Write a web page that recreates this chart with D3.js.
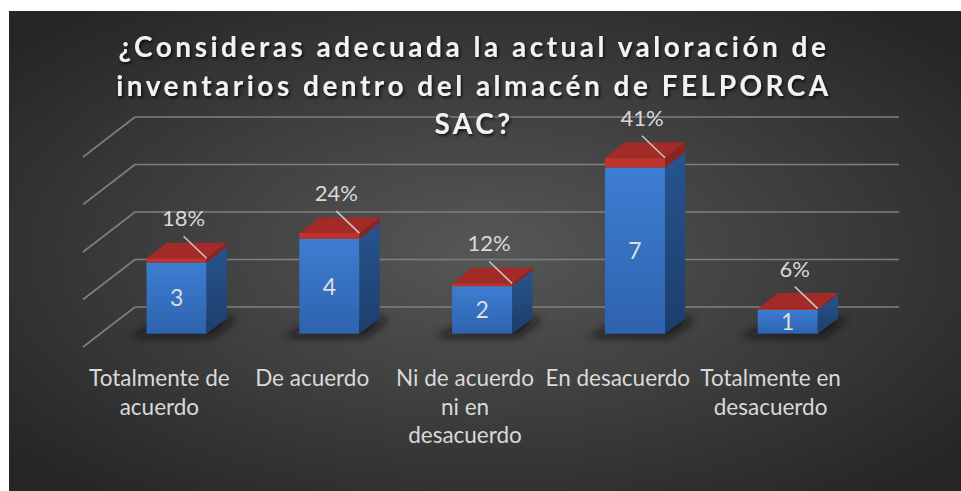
<!DOCTYPE html>
<html>
<head>
<meta charset="utf-8">
<script src="https://cdn.jsdelivr.net/npm/d3@7"></script>
<style>
    body { margin: 0; background: #fff; }
    svg { display: block; }
</style>
</head>
<body>
<div id="chart"></div>
<script>
// chart data
const categories = ['Totalmente de acuerdo', 'De acuerdo', 'Ni de acuerdo ni en desacuerdo', 'En desacuerdo', 'Totalmente en desacuerdo'];
const tickLabels = [['Totalmente de', 'acuerdo'], ['De acuerdo'], ['Ni de acuerdo', 'ni en', 'desacuerdo'], ['En desacuerdo'], ['Totalmente en', 'desacuerdo']];
const counts = [3, 4, 2, 7, 1];
const percents = [0.18, 0.24, 0.12, 0.41, 0.06];
const yTicks = [0, 2, 4, 6, 8];
const titleLines = ['¿Consideras adecuada la actual valoración de', 'inventarios dentro del almacén de FELPORCA', 'SAC?'];

const W = 961, H = 491;
// depth of the 3D floor (back wall offset from front plane)
const DX = 52, DY = 40;
const zFront = 0.33, zBack = 0.72;

const svg = d3.select('#chart').append('svg')
    .attr('width', W)
    .attr('height', H);

const defs = svg.append('defs');

// background gradient
const bg = defs.append('radialGradient').attr('id', 'bg')
    .attr('cx', '50%').attr('cy', '50%').attr('r', '65%');
bg.append('stop').attr('offset', '0%').attr('stop-color', '#575757');
bg.append('stop').attr('offset', '100%').attr('stop-color', '#262626');

const grad = (id, c1, c2) => {
    let g = defs.append('linearGradient').attr('id', id)
        .attr('x1', 0).attr('y1', 0).attr('x2', 0).attr('y2', 1);
    g.append('stop').attr('offset', '0%').attr('stop-color', c1);
    g.append('stop').attr('offset', '100%').attr('stop-color', c2);
}
grad('blueFront', '#3d7ed2', '#2e62ae');
grad('blueSide', '#27548f', '#1c3e6b');

defs.append('filter').attr('id', 'blur')
    .attr('x', '-50%').attr('y', '-50%').attr('width', '200%').attr('height', '200%')
    .append('feGaussianBlur').attr('stdDeviation', 4);

const shadowF = defs.append('filter').attr('id', 'tshadow')
    .attr('x', '-10%').attr('y', '-30%').attr('width', '120%').attr('height', '160%');
shadowF.append('feDropShadow')
    .attr('dx', 1.5).attr('dy', 2).attr('stdDeviation', 1.5)
    .attr('flood-color', '#000').attr('flood-opacity', 0.7);

svg.append('rect')
    .attr('x', 9).attr('y', 11)
    .attr('width', W - 9).attr('height', H - 11)
    .attr('fill', 'url(#bg)');

// scales (front plane)
const xScale = d3.scaleBand()
    .domain(categories)
    .range([83, 847])
    .paddingInner(0.607)
    .paddingOuter(0.3035);

const yScale = d3.scaleLinear()
    .domain([0, 8])
    .range([347, 157]);

// project a point (x in front plane, value, depth 0..1) to the screen
const proj = (x, v, z) => [x + z * DX, yScale(v) - z * DY];
const poly = pts => pts.map(p => p.join(',')).join(' ');

//************* GRID *************//
const grid = svg.append('g').attr('class', 'grid');
const xLeft = xScale.range()[0], xRight = xScale.range()[1];

grid.selectAll('.back')
    .data(yTicks)
    .enter()
    .append('line')
        .attr('x1', d => proj(xLeft, d, 1)[0])
        .attr('y1', d => proj(xLeft, d, 1)[1])
        .attr('x2', d => proj(xRight, d, 1)[0])
        .attr('y2', d => proj(xRight, d, 1)[1]);

grid.selectAll('.side')
    .data(yTicks)
    .enter()
    .append('line')
        .attr('x1', d => proj(xLeft, d, 0)[0])
        .attr('y1', d => proj(xLeft, d, 0)[1])
        .attr('x2', d => proj(xLeft, d, 1)[0])
        .attr('y2', d => proj(xLeft, d, 1)[1]);

grid.selectAll('line')
    .attr('stroke', '#7f7f7f')
    .attr('stroke-width', 1.6);

//************* BARS *************//
const data = categories.map((c, i) => ({
    key: c,
    count: counts[i],
    pct: percents[i]
}));

const bars = svg.selectAll('.bar')
    .data(data)
    .enter()
    .append('g')
    .attr('class', 'bar');

// soft shadow on the floor
bars.append('polygon')
    .attr('points', d => {
        let x0 = xScale(d.key) - 14, x1 = xScale(d.key) + xScale.bandwidth() + 10;
        return poly([proj(x0, 0, zFront - 0.08), proj(x1, 0, zFront - 0.08),
                     proj(x1, 0, zBack), proj(x0 + 20, 0, zBack)]);
    })
    .attr('fill', '#111')
    .attr('opacity', 0.75)
    .attr('filter', 'url(#blur)');

const drawBlock = (sel, v0, v1, front, side, top) => {
    sel.append('polygon')
        .attr('points', d => {
            let x0 = xScale(d.key), x1 = x0 + xScale.bandwidth();
            return poly([proj(x0, v0(d), zFront), proj(x1, v0(d), zFront),
                         proj(x1, v1(d), zFront), proj(x0, v1(d), zFront)]);
        })
        .attr('fill', front);
    sel.append('polygon')
        .attr('points', d => {
            let x1 = xScale(d.key) + xScale.bandwidth();
            return poly([proj(x1, v0(d), zFront), proj(x1, v0(d), zBack),
                         proj(x1, v1(d), zBack), proj(x1, v1(d), zFront)]);
        })
        .attr('fill', side);
    if (top) {
        sel.append('polygon')
            .attr('points', d => {
                let x0 = xScale(d.key), x1 = x0 + xScale.bandwidth();
                return poly([proj(x0, v1(d), zFront), proj(x1, v1(d), zFront),
                             proj(x1, v1(d), zBack), proj(x0, v1(d), zBack)]);
            })
            .attr('fill', top);
    }
}

drawBlock(bars, d => 0, d => d.count, 'url(#blueFront)', 'url(#blueSide)', null);
drawBlock(bars, d => d.count, d => d.count + d.pct, '#bf332d', '#8a2420', '#a22b27');

// count labels inside the blue part
bars.append('text')
    .attr('x', d => proj(xScale(d.key) + xScale.bandwidth() / 2, 0, zFront)[0])
    .attr('y', d => proj(0, d.count / 2, zFront)[1])
    .attr('dy', '0.36em')
    .attr('text-anchor', 'middle')
    .attr('fill', '#dedede')
    .style('font', '23px Lato, "Open Sans", sans-serif')
    .text(d => d.count);

// percentage labels with leader lines
bars.append('line')
    .attr('x1', d => proj(xScale(d.key) + xScale.bandwidth() / 2, 0, zFront)[0] + 7)
    .attr('y1', d => proj(0, d.count + d.pct, zFront)[1] - 22)
    .attr('x2', d => proj(xScale(d.key) + xScale.bandwidth(), 0, zFront)[0])
    .attr('y2', d => proj(0, d.count + d.pct, zFront)[1])
    .attr('stroke', '#c8c8c8')
    .attr('stroke-width', 1.5);

bars.append('text')
    .attr('x', d => proj(xScale(d.key) + xScale.bandwidth() / 2, 0, zFront)[0] + 7)
    .attr('y', d => proj(0, d.count + d.pct, zFront)[1] - 32)
    .attr('text-anchor', 'middle')
    .attr('fill', '#d9d9d9')
    .style('font', '22px Lato, "Open Sans", sans-serif')
    .text(d => Math.round(d.pct * 100) + '%');

//************** AXIS ******************//
const xAxis = svg.append('g')
    .attr('transform', 'translate(0, 364)')
    .call(d3.axisBottom(xScale).tickSize(0).tickFormat(''));

xAxis.select('.domain').remove();

xAxis.selectAll('.tick text')
    .attr('y', 0)
    .attr('dy', 0)
    .attr('fill', '#d9d9d9')
    .style('font', '22.5px Lato, "Open Sans", sans-serif')
    .each(function(d, i) {
        let t = d3.select(this);
        tickLabels[i].forEach((line, j) => {
            t.append('tspan')
                .attr('x', 0)
                .attr('y', 22 + j * 28.5)
                .text(line);
        });
    });

//************** TITLE ******************//
svg.append('text')
    .attr('text-anchor', 'middle')
    .attr('fill', '#f2f2f2')
    .attr('filter', 'url(#tshadow)')
    .style('font', 'bold 28px Lato, "Open Sans", sans-serif')
    .style('letter-spacing', '3.5px')
    .selectAll('tspan')
    .data(titleLines)
    .enter()
    .append('tspan')
        .attr('x', 474)
        .attr('y', (d, i) => 57 + i * 38.5)
        .text(d => d);
</script>
</body>
</html>
